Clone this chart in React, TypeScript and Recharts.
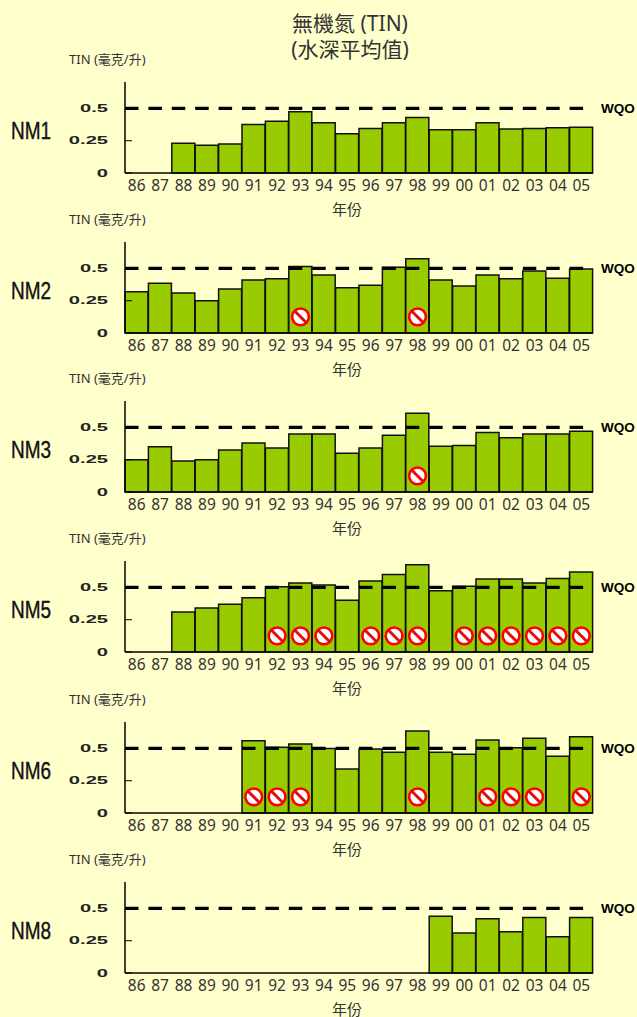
import React from "react";
import { ComposedChart, Bar, Line, XAxis, YAxis, ReferenceLine } from "recharts";

const years = ["86","87","88","89","90","91","92","93","94","95","96","97","98","99","00","01","02","03","04","05"];
const n = null;
const nm1 = [n,n,.23,.215,.225,.375,.40,.475,.39,.305,.345,.39,.43,.335,.335,.39,.34,.345,.35,.355];
const nm2 = [.32,.385,.31,.25,.34,.41,.42,.515,.45,.35,.37,.51,.575,.41,.365,.45,.42,.48,.425,.495];
const nm3 = [.25,.35,.24,.25,.325,.38,.34,.45,.45,.30,.34,.44,.61,.355,.36,.46,.42,.45,.45,.47];
const nm5 = [n,n,.31,.34,.37,.42,.505,.535,.52,.40,.55,.60,.675,.475,.51,.565,.565,.535,.57,.62];
const nm6 = [n,n,n,n,n,.56,.51,.535,.50,.34,.495,.47,.635,.47,.455,.565,.505,.58,.44,.59];
const nm8 = [n,n,n,n,n,n,n,n,n,n,n,n,n,.44,.31,.42,.32,.43,.28,.43];
const flags1: string[] = [];
const flags2 = ["93","98"];
const flags3 = ["98"];
const flags5 = ["92","93","94","96","97","98","00","01","02","03","04","05"];
const flags6 = ["91","92","93","98","01","02","03","05"];
const flags8: string[] = [];
const yTicks = [0, 0.25, 0.5];
const wqo = 0.5;
const flagLevel = 0.125;

const stations = [
  { name: "NM1", values: nm1, flags: flags1, base: 173 },
  { name: "NM2", values: nm2, flags: flags2, base: 333 },
  { name: "NM3", values: nm3, flags: flags3, base: 492 },
  { name: "NM5", values: nm5, flags: flags5, base: 652 },
  { name: "NM6", values: nm6, flags: flags6, base: 813 },
  { name: "NM8", values: nm8, flags: flags8, base: 973 },
];

const latin = "'Liberation Sans', 'Noto Sans CJK TC', sans-serif";
const thin = "'Noto Sans', 'Noto Sans CJK TC', sans-serif";

const YTick = (p: any) => {
  const { y, payload } = p;
  return (
    <g>
      <line x1={125} x2={132} y1={y} y2={y} stroke="#000" strokeWidth={1} />
      <text transform={`translate(108,${y + 3.5}) scale(1.75,1)`} textAnchor="end" fontFamily={latin} fontSize={11.5} fontWeight={700} fill="#222">
        {String(payload.value)}
      </text>
    </g>
  );
};

const NoEntry = (p: any) => {
  const { cx, cy, value, index } = p;
  if (value == null || cy == null) return <g key={index} />;
  const d = 5.6;
  return (
    <g key={index}>
      <circle cx={cx} cy={cy} r={8.4} fill="#fff" stroke="#f00" strokeWidth={2.6} />
      <line x1={cx - d} y1={cy - d} x2={cx + d} y2={cy + d} stroke="#e01010" strokeWidth={3} />
    </g>
  );
};

function Panel({ s }: { s: (typeof stations)[number] }) {
  const rows = years.map((y, i) => ({
    year: y,
    tin: s.values[i],
    flag: s.flags.includes(y) ? flagLevel : null,
  }));
  return (
    <>
      <div style={{ position: "absolute", left: 69, top: s.base - 121, fontFamily: thin, fontSize: 13, lineHeight: "14px", color: "#333", whiteSpace: "nowrap" }}>
        TIN (毫克/升)
      </div>
      <div style={{ position: "absolute", left: 11, top: s.base - 56, fontFamily: latin, fontSize: 24, lineHeight: "28px", color: "#111", transform: "scaleX(0.79)", transformOrigin: "left", WebkitTextStroke: "0.4px #111" }}>
        {s.name}
      </div>
      <div style={{ position: "absolute", left: 601, top: s.base - 71, fontFamily: latin, fontSize: 13, fontWeight: 700, lineHeight: "14px", color: "#000", transform: "scaleX(1.04)", transformOrigin: "left" }}>
        WQO
      </div>
      <div style={{ position: "absolute", left: 0, top: s.base - 101 }}>
        <ComposedChart width={637} height={152} data={rows} barCategoryGap={0} margin={{ top: 10, right: 44, bottom: 0, left: 0 }}>
          <XAxis
            dataKey="year"
            interval={0}
            height={51}
            tickLine={false}
            tickSize={0}
            tickMargin={7}
            axisLine={{ stroke: "#000", strokeWidth: 1.3 }}
            tick={{ fontFamily: thin, fontSize: 15.5, fill: "#333" }}
            label={{ value: "年份", position: "insideBottom", offset: 9, dx: -12, fontFamily: thin, fontSize: 15, fill: "#333" }}
          />
          <YAxis
            type="number"
            domain={[0, 0.705]}
            ticks={yTicks}
            width={125}
            tickLine={false}
            tick={<YTick />}
            axisLine={{ stroke: "#000", strokeWidth: 1.5 }}
          />
          <Bar dataKey="tin" fill="#99CC00" stroke="#111" strokeWidth={1.5} isAnimationActive={false} />
          <ReferenceLine y={wqo} stroke="#000" strokeWidth={3.2} strokeDasharray="13.5 9.9" />
          <Line dataKey="flag" stroke="none" dot={<NoEntry />} activeDot={false} legendType="none" isAnimationActive={false} />
        </ComposedChart>
      </div>
    </>
  );
}

export default function App() {
  return (
    <div style={{ position: "absolute", left: 0, top: 0, width: 637, height: 1017, background: "#FFFFCC", overflow: "hidden" }}>
      <div style={{ position: "absolute", left: 250, width: 200, top: 10, textAlign: "center", fontFamily: thin, fontSize: 21, lineHeight: "26px", color: "#333" }}>
        無機氮 (TIN)
        <br />
        (水深平均值)
      </div>
      {stations.map((s) => (
        <Panel key={s.name} s={s} />
      ))}
    </div>
  );
}
